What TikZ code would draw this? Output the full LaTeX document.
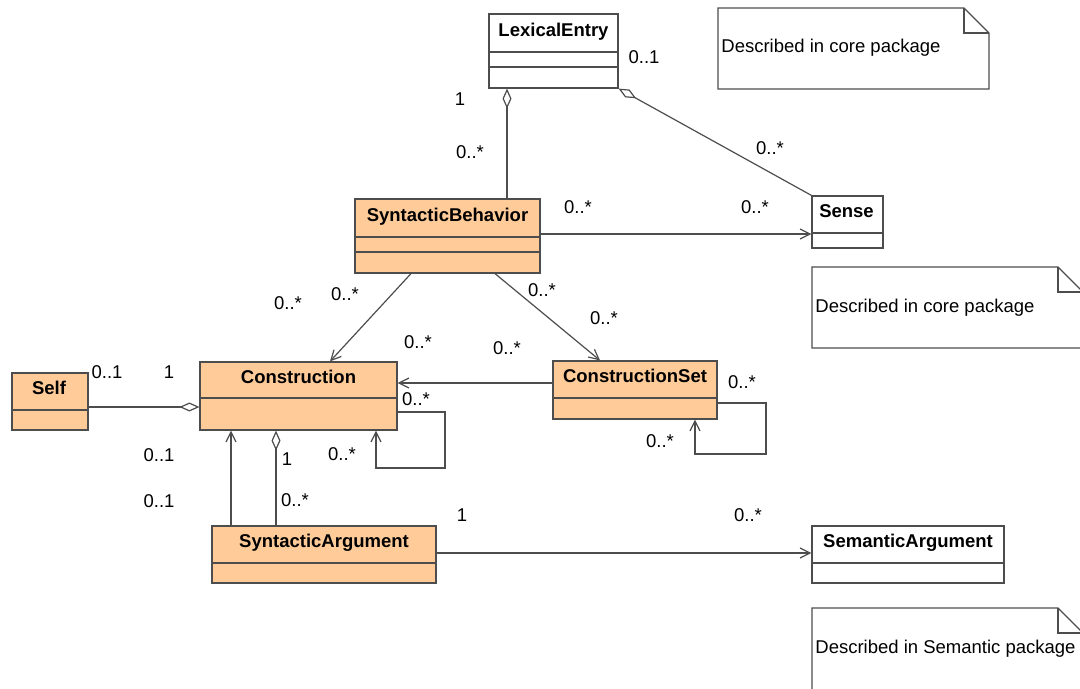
\documentclass[tikz,border=0pt]{standalone}
\usepackage{fontspec}
\setmainfont{Liberation Sans}
\usepackage{tikz}
\usetikzlibrary{arrows.meta,positioning,fit,calc}
\definecolor{classfill}{RGB}{255,204,153}
\definecolor{umlline}{RGB}{77,77,77}
\tikzset{% 
  class filled/.style={%
    draw=umlline,
    fill=classfill,
    line width=0.6pt,
    inner sep=0pt
  }
}
\tikzset{% 
  class plain/.style={%
    draw=umlline,
    fill=white,
    line width=0.6pt,
    inner sep=0pt
  }
}
\tikzset{% 
  class name/.style={%
    font=\bfseries\fontsize{9.25}{11}\selectfont,
    inner sep=0pt,
    anchor=base
  }
}
\tikzset{% 
  multiplicity/.style={%
    font=\fontsize{9.25}{11}\selectfont,
    inner sep=0pt
  }
}
\tikzset{% 
  note text/.style={%
    font=\fontsize{9.25}{11}\selectfont,
    inner sep=0pt,
    anchor=west
  }
}
\tikzset{% 
  compartment/.style={%
    draw=umlline,
    line width=0.6pt
  }
}
\tikzset{% 
  navigable/.style={%
    draw=umlline,
    line width=0.6pt,
    -{Straight Barb[length=5pt,width=5pt]}
  }
}
\tikzset{% 
  aggregation/.style={%
    draw=umlline,
    line width=0.6pt,
    -{Diamond[length=10pt,width=4.5pt,fill=white]}
  }
}

\begin{document}
\begin{tikzpicture}[x=0.5pt,y=-0.5pt]
  \useasboundingbox (0,0) rectangle (1080,689);
  \clip (0,0) rectangle (1080,689);
  % notes
  \draw [compartment, fill=white] (718,8) -- (964,8) -- (989,33) -- (989,89) -- (718,89) -- cycle;
  \draw [compartment] (964,8) -- (964,33) -- (989,33);
  \node [note text] (note1) at (721,48) {Described in core package};
  \draw [compartment, fill=white] (812,267) -- (1058,267) -- (1083,292) -- (1083,348) -- (812,348) -- cycle;
  \draw [compartment] (1058,267) -- (1058,292) -- (1083,292);
  \node [note text] (note2) at (815,308) {Described in core package};
  \draw [compartment, fill=white] (812,608) -- (1058,608) -- (1083,633) -- (1083,700) -- (812,700) -- cycle;
  \draw [compartment] (1058,608) -- (1058,633) -- (1083,633);
  \node [note text] (note3) at (815,649) {Described in Semantic package};
  % classes
  \node [class plain, fit={(489,14) (618,88)}] (lex) {};
  \node [class filled, fit={(355,199) (540,273)}] (sb) {};
  \node [class filled, fit={(200,362) (397,430)}] (con) {};
  \node [class filled, fit={(12,373) (88,430)}] (self) {};
  \node [class filled, fit={(553,361) (717,419)}] (cset) {};
  \node [class filled, fit={(212,526) (436,583)}] (sarg) {};
  \node [class plain, fit={(812,196) (883,248)}] (sense) {};
  \node [class plain, fit={(812,526) (1004,583)}] (semarg) {};
  \node [class name] (lexname) at ($(lex.north)+(0,23)$) {LexicalEntry};
  \node [class name] (sbname) at ($(sb.north)+(0,23)$) {SyntacticBehavior};
  \node [class name] (conname) at ($(con.north)+(0,22)$) {Construction};
  \node [class name] (selfname) at ($(self.north)+(-1,22)$) {Self};
  \node [class name] (csetname) at ($(cset.north)+(0,22)$) {ConstructionSet};
  \node [class name] (sargname) at ($(sarg.north)+(0,22)$) {SyntacticArgument};
  \node [class name] (sensename) at ($(sense.north)+(-1,22)$) {Sense};
  \node [class name] (semargname) at ($(semarg.north)+(0,22)$) {SemanticArgument};
  \draw [compartment] (lex.west |- 0,52) -- (lex.east |- 0,52);
  \draw [compartment] (lex.west |- 0,67) -- (lex.east |- 0,67);
  \draw [compartment] (sb.west |- 0,237) -- (sb.east |- 0,237);
  \draw [compartment] (sb.west |- 0,252) -- (sb.east |- 0,252);
  \draw [compartment] (con.west |- 0,398) -- (con.east |- 0,398);
  \draw [compartment] (self.west |- 0,410) -- (self.east |- 0,410);
  \draw [compartment] (cset.west |- 0,398) -- (cset.east |- 0,398);
  \draw [compartment] (sarg.west |- 0,563) -- (sarg.east |- 0,563);
  \draw [compartment] (sense.west |- 0,233) -- (sense.east |- 0,233);
  \draw [compartment] (semarg.west |- 0,563) -- (semarg.east |- 0,563);
  % associations
  \draw [aggregation] (sb.north -| 507,0) -- (lex.south -| 507,0);
  \draw [aggregation] (sense.north west) -- (lex.south east);
  \draw [navigable] (sb.east |- 0,234) -- (sense.west |- 0,234);
  \draw [navigable] (sb.south -| 411,0) -- (con.north -| 330,0);
  \draw [navigable] (sb.south -| 495,0) -- (cset.north -| 600,0);
  \draw [navigable] (cset.west |- 0,383) -- (con.east |- 0,383);
  \draw [navigable] (con.east |- 0,412) -| (445,468) -| (con.south -| 376,0);
  \draw [navigable] (cset.east |- 0,403) -| (766,454) -| (cset.south -| 695,0);
  \draw [aggregation] (self.east |- 0,407) -- (con.west |- 0,407);
  \draw [navigable] (sarg.north -| 231,0) -- (con.south -| 231,0);
  \draw [aggregation] (sarg.north -| 276,0) -- (con.south -| 276,0);
  \draw [navigable] (sarg.east |- 0,553) -- (semarg.west |- 0,553);
  % multiplicities
  \node [multiplicity] (lexsb1) at (460,99) {1};
  \node [multiplicity] (lexsb2) at (470,152) {0..*};
  \node [multiplicity] (lexse1) at (644,57) {0..1};
  \node [multiplicity] (lexse2) at (770,148) {0..*};
  \node [multiplicity] (sbse1) at (578,207) {0..*};
  \node [multiplicity] (sbse2) at (755,207) {0..*};
  \node [multiplicity] (sbcon1) at (345,294) {0..*};
  \node [multiplicity] (sbcon2) at (288,303) {0..*};
  \node [multiplicity] (sbcs1) at (542,290) {0..*};
  \node [multiplicity] (sbcs2) at (604,318) {0..*};
  \node [multiplicity] (cscon1) at (507,348) {0..*};
  \node [multiplicity] (cscon2) at (418,342) {0..*};
  \node [multiplicity] (conl1) at (416,399) {0..*};
  \node [multiplicity] (conl2) at (342,454) {0..*};
  \node [multiplicity] (csl1) at (742,382) {0..*};
  \node [multiplicity] (csl2) at (660,441) {0..*};
  \node [multiplicity] (selfcon1) at (107,372) {0..1};
  \node [multiplicity] (selfcon2) at (169,372) {1};
  \node [multiplicity] (sacon1) at (159,455) {0..1};
  \node [multiplicity] (sacon2) at (159,501) {0..1};
  \node [multiplicity] (sacon3) at (287,459) {1};
  \node [multiplicity] (sacon4) at (295,500) {0..*};
  \node [multiplicity] (sasem1) at (462,515) {1};
  \node [multiplicity] (sasem2) at (748,515) {0..*};
\end{tikzpicture}
\end{document}
